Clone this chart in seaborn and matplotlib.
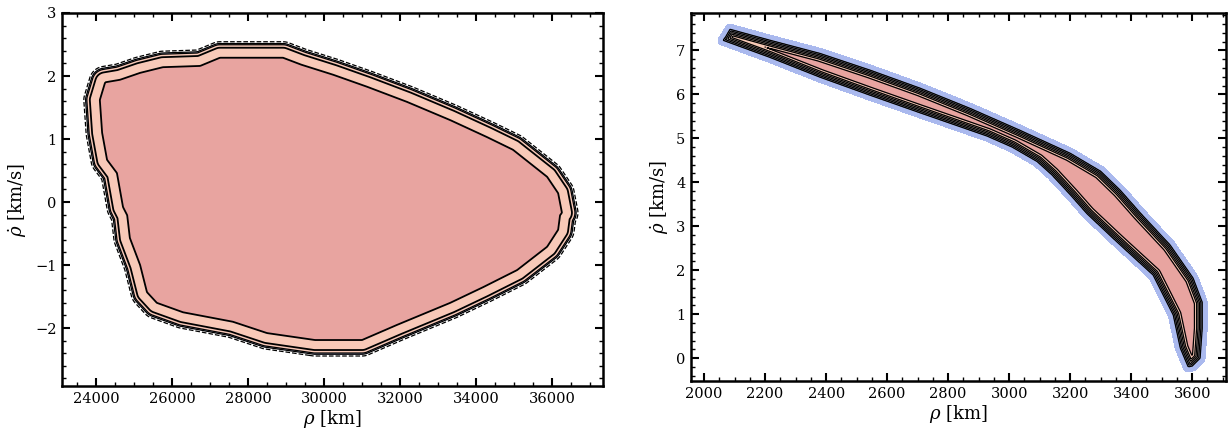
"""Range / range-rate admissible regions, two panels."""
import numpy as np
import matplotlib
matplotlib.use("Agg")
import matplotlib.pyplot as plt
from matplotlib.path import Path
from matplotlib.ticker import MultipleLocator
import seaborn as sns

# left panel: inner boundary of the region (rho [km], rho_dot [km/s])
left_rho = [24240, 24630, 25160, 25760, 26740, 27260, 28920, 29400, 30240, 31130,
            32180, 33320, 34290, 34970, 35870, 36160, 36260, 36210, 36160, 35870,
            35080, 34190, 33320, 31920, 31000, 29760, 28500, 27600, 26290, 25600,
            25340, 25160, 24890, 24820, 24710, 24550, 24290, 24160, 24100]
left_rhodot = [1.90, 1.94, 2.05, 2.14, 2.16, 2.29, 2.29, 2.18, 2.02, 1.83,
               1.59, 1.30, 1.03, 0.83, 0.40, 0.14, -0.17, -0.21, -0.44, -0.71,
               -1.08, -1.35, -1.60, -1.95, -2.19, -2.19, -2.08, -1.90, -1.75, -1.60,
               -1.43, -1.00, -0.57, -0.21, -0.08, 0.46, 0.67, 1.10, 1.62]

# right panel: outer edge of the band, upper side (left->right) then lower side (right->left)
right_rho = [2070, 2085, 2216, 2380, 2544, 2708, 2872, 3036, 3200, 3300, 3364, 3430,
             3528, 3603, 3633, 3633, 3626, 3600, 3587, 3561, 3538, 3472, 3354, 3256,
             3200, 3140, 3092, 3010, 2928, 2708, 2544, 2380, 2216, 2062]
right_rhodot = [7.30, 7.48, 7.23, 6.93, 6.55, 6.14, 5.68, 5.18, 4.66, 4.25, 3.82, 3.30,
                2.57, 1.82, 1.27, 0.68, 0.00, -0.18, -0.20, 0.23, 0.98, 1.89, 2.64, 3.28,
                3.72, 4.17, 4.47, 4.80, 5.05, 5.58, 5.98, 6.39, 6.84, 7.23]

sns.set_theme(style="ticks")
plt.rcParams["font.family"] = ["DejaVu Serif"]
plt.rcParams["mathtext.fontset"] = "dejavuserif"
for k in ["text.color", "axes.labelcolor", "xtick.color", "ytick.color", "axes.edgecolor"]:
    plt.rcParams[k] = "black"


def signed_dist(ax, vx, vy, n=520):
    """Signed distance (display px, + inside) from a grid to the polygon outline."""
    x0, x1 = ax.get_xlim(); y0, y1 = ax.get_ylim()
    bb = ax.get_window_extent()
    sx = bb.width / (x1 - x0); sy = bb.height / (y1 - y0)
    gx = np.linspace(x0, x1, n); gy = np.linspace(y0, y1, int(n * 0.75))
    X, Y = np.meshgrid(gx, gy)
    P = np.c_[(X.ravel() - x0) * sx, (Y.ravel() - y0) * sy]
    V = np.c_[(np.asarray(vx) - x0) * sx, (np.asarray(vy) - y0) * sy]
    A = V; B = np.roll(V, -1, axis=0)
    d = np.full(len(P), np.inf)
    for a, b in zip(A, B):
        ab = b - a
        t = np.clip(((P - a) @ ab) / (ab @ ab), 0, 1)
        d = np.minimum(d, np.hypot(*(P - a - np.outer(t, ab)).T))
    inside = Path(V).contains_points(P)
    d = np.where(inside, d, -d)
    return X, Y, d.reshape(X.shape)


fig = plt.figure(figsize=(12.28, 4.29), dpi=100)
ax1 = fig.add_axes([0.0505, 0.1002, 0.4406, 0.8695])
ax2 = fig.add_axes([0.5627, 0.1119, 0.4357, 0.8578])
ax1.set_xlim(23105, 37342); ax1.set_ylim(-2.92, 3.0)
ax2.set_xlim(1957, 3711); ax2.set_ylim(-0.52, 7.85)

# left: filled region + bands of contour lines
X, Y, D = signed_dist(ax1, left_rho, left_rhodot)
ax1.contourf(X, Y, D, levels=[-14.0, -12.8, 0, 1e4],
             colors=["#bcc5ec", "#f8c9b8", "#e8a4a0"])
ax1.contour(X, Y, D, levels=[-10.0, 0], colors="black", linewidths=1.3,
            linestyles="solid")
ax1.contour(X, Y, D, levels=[-16.0, -14.2, -13.0],
            colors="black", linewidths=0.9,
            linestyles=["dashed", "solid", "solid"])

# right: curved band
X, Y, D = signed_dist(ax2, right_rho, right_rhodot)
ax2.contourf(X, Y, D, levels=[-5, 0, 1.4, 2.8, 4.2, 5.6, 7.8, 1e4],
             colors=["#aab9ee", "#9aa0b8", "#b8b4bc", "#d6c6c4", "#f4d6c8",
                     "#f7c9b6", "#e8a4a0"])
ax2.contour(X, Y, D, levels=[0, 1.4, 2.8, 4.2, 5.6, 7.8],
            colors="black", linewidths=0.9, linestyles="solid")

for ax, (mx, mnx, my, mny) in zip([ax1, ax2], [(2000, 500, 1, 0.2), (200, 50, 1, 0.2)]):
    ax.xaxis.set_major_locator(MultipleLocator(mx)); ax.xaxis.set_minor_locator(MultipleLocator(mnx))
    ax.yaxis.set_major_locator(MultipleLocator(my)); ax.yaxis.set_minor_locator(MultipleLocator(mny))
    ax.tick_params(which="both", direction="in", top=True, right=True, labelsize=10.5, pad=4)
    ax.tick_params(which="major", length=6, width=1.5)
    ax.tick_params(which="minor", length=3, width=1.0)
    for s in ax.spines.values():
        s.set_linewidth(1.8); s.set_color("black")
    ax.set_xlabel(r"$\rho$ [km]", fontsize=13, labelpad=2)
    ax.set_ylabel(r"$\dot{\rho}$ [km/s]", fontsize=13, labelpad=4)
    ax.set_facecolor("white")

plt.savefig("out.png", dpi=100)
